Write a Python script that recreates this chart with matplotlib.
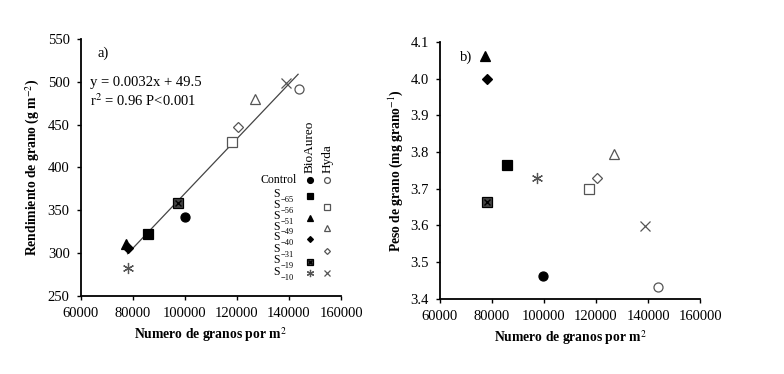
import numpy as np
import matplotlib
matplotlib.use('Agg')
import matplotlib.pyplot as plt
from matplotlib.transforms import offset_copy

plt.rcParams['font.family'] = 'Liberation Serif'
plt.rcParams['mathtext.fontset'] = 'stix'
plt.rcParams['font.size'] = 10

# datos por tratamiento: BioAureo (relleno) e Hyda (vacio)
bio_trat = ['Control', 'S-65', 'S-51', 'S-40', 'S-19', 'S-10']
bio_granos_a = [100000, 86000, 77500, 78000, 97500, 78000]
bio_rend = [342, 322, 310, 306, 358, 283]
bio_granos_b = [99500, 86000, 77500, 78000, 78000, 97500]
bio_peso = [3.462, 3.765, 4.062, 3.998, 3.665, 3.730]

hyd_trat = ['Control', 'S-56', 'S-49', 'S-31', 'S-10']
hyd_granos = [144000, 118000, 127000, 120500, 139000]
hyd_rend = [491, 430, 480, 447, 498]
hyd_granos_b = [144000, 117500, 127000, 120500, 139000]
hyd_peso = [3.432, 3.698, 3.795, 3.730, 3.598]

pend, inter = 0.0032, 49.5
x_lin = [78000, 143500]

leyenda = ['Control', 'S-65', 'S-56', 'S-51', 'S-49', 'S-40', 'S-31', 'S-19', 'S-10']

gris = '#555555'
estilo_bio = {'Control': dict(marker='o', mfc='k', mec='k'),
              'S-65': dict(marker='s', mfc='k', mec='k'),
              'S-51': dict(marker='^', mfc='k', mec='k'),
              'S-40': dict(marker='D', mfc='k', mec='k'),
              'S-19': dict(marker='s', mfc='#444444', mec='k'),
              'S-10': dict(marker=(6, 2, 0), mfc=gris, mec=gris)}
estilo_hyd = {'Control': dict(marker='o', mfc='w', mec=gris),
              'S-56': dict(marker='s', mfc='w', mec=gris),
              'S-49': dict(marker='^', mfc='w', mec=gris),
              'S-31': dict(marker='D', mfc='w', mec=gris),
              'S-10': dict(marker='x', mfc=gris, mec=gris)}
tam = {'o': 6.5, 's': 6.5, '^': 6.5, 'D': 4.6, 'x': 7, (6, 2, 0): 8}


def punto(ax, x, y, est, escala=1.0, tr=None):
    ms = tam[est['marker']] * escala
    l, = ax.plot(x, y, linestyle='none', ms=ms, mew=0.9, clip_on=False, **est)
    if tr is not None:
        l.set_transform(tr)


def punto_19(ax, x, y, escala=1.0, tr=None):
    punto(ax, x, y, estilo_bio['S-19'], escala, tr)
    l, = ax.plot(x, y, linestyle='none', marker='x', color='k', ms=4.6 * escala, mew=1.0, clip_on=False)
    if tr is not None:
        l.set_transform(tr)


def ejes(ax):
    for s in ['top', 'right']:
        ax.spines[s].set_visible(False)
    ax.spines['left'].set_linewidth(1.3)
    ax.spines['bottom'].set_linewidth(1.3)
    ax.tick_params(direction='out', length=3, width=1.0, labelsize=10.5, pad=5)
    ax.set_xlim(60000, 160000)
    ax.set_xticks(np.arange(60000, 160001, 20000))
    ax.set_xlabel('Numero de granos por m$^{2}$', fontweight='bold', fontsize=9.8)


fig = plt.figure(figsize=(7.84, 3.74), dpi=100)
ax1 = fig.add_axes([0.103, 0.209, 0.332, 0.687])
ax2 = fig.add_axes([0.561, 0.201, 0.332, 0.687])

# panel a
ejes(ax1)
ax1.set_ylim(250, 550)
ax1.set_yticks(np.arange(250, 551, 50))
ax1.set_ylabel('Rendimiento de grano (g m$^{-2}$)', fontweight='bold', fontsize=9.8)
ax1.plot(x_lin, [pend * x + inter for x in x_lin], color='#444444', lw=0.9)
for t, x, y in zip(bio_trat, bio_granos_a, bio_rend):
    if t == 'S-19':
        punto_19(ax1, x, y)
    else:
        punto(ax1, x, y, estilo_bio[t])
for t, x, y in zip(hyd_trat, hyd_granos, hyd_rend):
    punto(ax1, x, y, estilo_hyd[t])
ax1.text(0.065, 0.945, 'a)', transform=ax1.transAxes, va='center', fontsize=10.5)
ax1.text(0.035, 0.83, 'y = 0.0032x + 49.5', transform=ax1.transAxes, va='center', fontsize=10.5)
ax1.text(0.035, 0.76, 'r$^{2}$ = 0.96 P<0.001', transform=ax1.transAxes, va='center', fontsize=10.5)

# leyenda manual (S y subindice como textos separados)
filas = [0.450, 0.389, 0.346, 0.304, 0.263, 0.222, 0.176, 0.132, 0.087]
tr_sub = offset_copy(ax1.transAxes, fig=fig, x=0, y=-3, units='points')
for t, yf in zip(leyenda, filas):
    if t == 'Control':
        ax1.text(0.83, yf, 'Control', transform=ax1.transAxes,
                 ha='right', va='center', fontsize=8.5)
    else:
        ax1.text(0.765, yf + 0.006, 'S', transform=ax1.transAxes,
                 ha='right', va='center', fontsize=8.5)
        ax1.text(0.767, yf, '\u2212' + t[2:], transform=tr_sub,
                 ha='left', va='center', fontsize=6)
    if t in estilo_bio:
        if t == 'S-19':
            punto_19(ax1, 0.88, yf, 0.65, ax1.transAxes)
        else:
            punto(ax1, 0.88, yf, estilo_bio[t], 0.65, ax1.transAxes)
    if t in estilo_hyd:
        punto(ax1, 0.946, yf, estilo_hyd[t], 0.65, ax1.transAxes)
ax1.text(0.88, 0.48, 'BioAureo', transform=ax1.transAxes, rotation=90, ha='center', va='bottom', fontsize=9.5)
ax1.text(0.95, 0.48, 'Hyda', transform=ax1.transAxes, rotation=90, ha='center', va='bottom', fontsize=9.5)

# panel b
ejes(ax2)
ax2.set_ylim(3.4, 4.1)
ax2.set_yticks(np.arange(3.4, 4.11, 0.1))
ax2.set_yticklabels(['%.1f' % v for v in np.arange(3.4, 4.11, 0.1)])
ax2.set_ylabel('Peso de grano (mg grano$^{-1}$)', fontweight='bold', fontsize=9.8)
for t, x, y in zip(bio_trat, bio_granos_b, bio_peso):
    if t == 'S-19':
        punto_19(ax2, x, y)
    else:
        punto(ax2, x, y, estilo_bio[t])
for t, x, y in zip(hyd_trat, hyd_granos_b, hyd_peso):
    punto(ax2, x, y, estilo_hyd[t])
ax2.text(0.077, 0.94, 'b)', transform=ax2.transAxes, va='center', fontsize=10.5)

plt.savefig('out.png', dpi=100)
